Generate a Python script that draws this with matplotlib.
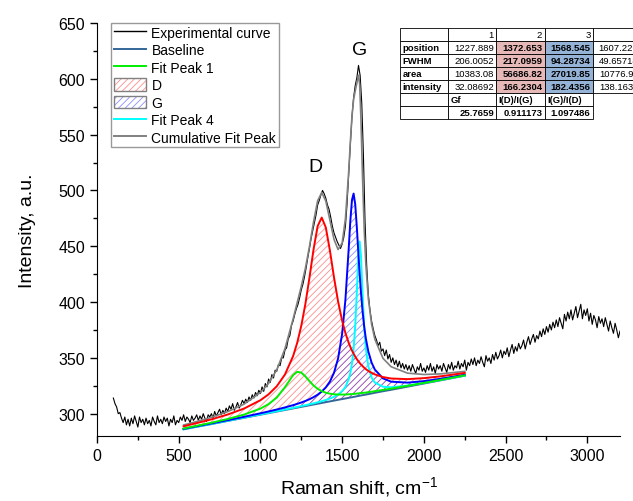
import numpy as np
import matplotlib.pyplot as plt
import matplotlib.patches as mpatches
from matplotlib.lines import Line2D
from matplotlib.legend_handler import HandlerTuple
from matplotlib.table import Table
from matplotlib.ticker import MultipleLocator

# experimental spectrum, one value every 10 cm-1 from 100 to 3200
exp_x = np.arange(100, 3201, 10)
exp_y = [
    314, 309, 306, 300, 301, 296, 292, 297, 290, 295,
    289, 296, 291, 298, 293, 288, 297, 292, 295, 290,
    296, 291, 294, 289, 297, 293, 290, 298, 292, 295,
    291, 297, 293, 296, 289, 295, 292, 298, 290, 294,
    292, 297, 294, 299, 293, 297, 295, 292, 298, 294,
    296, 299, 294, 298, 295, 300, 296, 293, 299, 297,
    300, 296, 302, 298, 301, 304, 299, 303, 300, 305,
    302, 307, 304, 309, 303, 306, 310, 305, 308, 312,
    309, 313, 310, 315, 312, 317, 314, 319, 316, 321,
    318, 324, 320, 327, 324, 331, 328, 335, 332, 339,
    338, 344, 343, 350, 350, 357, 359, 367, 370, 379,
    383, 389, 394, 398, 404, 411, 416, 423, 431, 440,
    448, 457, 464, 471, 478, 487, 491, 496, 500, 497,
    493, 487, 483, 476, 468, 462, 458, 454, 451, 448,
    452, 458, 468, 488, 515, 541, 566, 583, 594, 601,
    612, 603, 578, 532, 472, 433, 407, 393, 383, 376,
    370, 366, 361, 364, 356, 358, 352, 357, 349, 353,
    346, 350, 344, 348, 342, 347, 341, 345, 340, 344,
    339, 343, 338, 344, 340, 336, 342, 339, 345, 338,
    341, 337, 343, 339, 345, 338, 342, 336, 344, 340,
    343, 338, 345, 341, 337, 344, 340, 346, 339, 343,
    341, 347, 340, 345, 342, 348, 339, 346, 343, 349,
    344, 350, 343, 348, 345, 351, 346, 342, 352, 347,
    350, 345, 353, 348, 355, 349, 352, 357, 350, 356,
    353, 359, 351, 357, 362, 354, 360, 356, 363, 358,
    361, 366, 358, 364, 369, 362, 367, 371, 364, 370,
    367, 374, 369, 376, 371, 378, 373, 380, 375, 382,
    377, 384, 378, 386, 381, 376, 389, 383, 391, 385,
    393, 384, 390, 396, 386, 392, 398, 385, 393, 388,
    394, 383, 390, 380, 388, 384, 377, 387, 381, 385,
    378, 386, 380, 374, 383, 377, 372, 381, 375, 368,
    374,
]

# fitted curves, heights above the baseline
fit_x = [530, 600, 700, 800, 900, 1000, 1050, 1100, 1150, 1200, 1225, 1250,
         1275, 1300, 1325, 1350, 1375, 1400, 1425, 1450, 1475, 1500, 1520,
         1540, 1550, 1560, 1570, 1580, 1590, 1600, 1607, 1615, 1625, 1635,
         1645, 1660, 1680, 1700, 1750, 1800, 1900, 2000, 2100, 2250]
baseline = [286.0, 288.0, 290.7, 293.5, 296.3, 299.1, 300.5, 301.9, 303.3,
            304.7, 305.4, 306.1, 306.8, 307.5, 308.2, 308.9, 309.6, 310.3,
            311.0, 311.7, 312.4, 313.1, 313.6, 314.2, 314.5, 314.7, 315.0,
            315.3, 315.6, 315.9, 316.1, 316.3, 316.6, 316.8, 317.1, 317.5,
            318.1, 318.7, 320.1, 321.4, 324.2, 327.0, 329.8, 334.0]
peak1 = [0.68, 0.84, 1.18, 1.76, 2.88, 5.44, 8.05, 12.6, 20.4, 29.9, 32.1,
         30.7, 26.6, 21.6, 17.0, 13.4, 10.6, 8.47, 6.89, 5.69, 4.76, 4.03,
         3.55, 3.15, 2.98, 2.82, 2.67, 2.53, 2.40, 2.29, 2.21, 2.12, 2.02,
         1.93, 1.85, 1.73, 1.58, 1.46, 1.20, 1.01, 0.74, 0.56, 0.44, 0.32]
peak_d = [2.71, 3.21, 4.21, 5.75, 8.31, 12.96, 16.85, 22.67, 31.8, 46.9, 58.1,
          72.7, 91.5, 114.4, 139.0, 159.1, 166.1, 156.5, 135.2, 110.5, 88.2,
          70.1, 58.6, 49.3, 45.4, 41.9, 38.7, 35.8, 33.2, 30.9, 29.4, 27.8,
          26.0, 24.3, 22.8, 20.8, 18.5, 16.5, 12.7, 10.1, 6.76, 4.83, 3.62,
          2.51]
peak_g = [0.38, 0.43, 0.54, 0.68, 0.90, 1.25, 1.50, 1.83, 2.29, 2.94, 3.37,
          3.91, 4.59, 5.45, 6.59, 8.11, 10.22, 13.24, 17.77, 24.92, 36.97,
          58.6, 88.6, 133.6, 158.1, 176.7, 182.2, 172.2, 151.0, 126.1, 109.4,
          92.4, 74.8, 61.0, 50.2, 38.3, 27.7, 20.8, 11.5, 7.26, 3.62, 2.15,
          1.42, 0.87]
peak4 = [0.07, 0.08, 0.10, 0.13, 0.17, 0.23, 0.27, 0.33, 0.41, 0.51, 0.58,
         0.67, 0.77, 0.90, 1.06, 1.28, 1.57, 1.96, 2.52, 3.37, 4.72, 7.06,
         10.4, 16.69, 22.03, 30.14, 42.9, 63.3, 94.0, 128.0, 138.2, 125.2,
         90.6, 60.8, 41.3, 24.9, 14.3, 9.19, 4.04, 2.25, 0.99, 0.55, 0.35,
         0.21]

legend_labels = ['Experimental curve', 'Baseline', 'Fit Peak 1', 'D', 'G',
                 'Fit Peak 4', 'Cumulative Fit Peak']

# fit results table
table_header = ['', '1', '2', '3', '4']
param_names = ['position', 'FWHM', 'area', 'intensity']
peak_params = [
    ['1227.889', '1372.653', '1568.545', '1607.229'],
    ['206.0052', '217.0959', '94.28734', '49.65718'],
    ['10383.08', '56686.82', '27019.85', '10776.95'],
    ['32.08692', '166.2304', '182.4356', '138.1632'],
]
ratio_names = ['', 'Gf', 'I(D)/I(G)', 'I(G)/I(D)']
ratio_values = ['', '25.7659', '0.911173', '1.097486']

plt.rcParams['font.family'] = ['Liberation Sans', 'DejaVu Sans']
plt.rcParams['mathtext.default'] = 'regular'
plt.rcParams['hatch.linewidth'] = 0.6

fig = plt.figure(figsize=(6.33, 5.02), dpi=100)
ax = fig.add_axes([97 / 633, 65 / 502, 523 / 633, 413 / 502])

fx = np.array(fit_x)
base = np.array(baseline)
p1 = base + np.array(peak1)
pd_ = base + np.array(peak_d)
pg = base + np.array(peak_g)
p4 = base + np.array(peak4)
cum = base + np.array(peak1) + np.array(peak_d) + np.array(peak_g) + np.array(peak4)

base_color = '#336699'
d_hatch = (1, 0, 0, 0.45)
g_hatch = (0, 0, 1, 0.45)
hatch = '/////'

ax.plot(exp_x, exp_y, color='black', lw=0.8, zorder=2)
ax.plot(fx, cum, color='#808080', lw=1.2, zorder=3)
ax.fill_between(fx, base, pd_, facecolor='none', edgecolor=d_hatch,
                hatch=hatch, lw=0, zorder=1)
ax.fill_between(fx, base, pg, facecolor='none', edgecolor=g_hatch,
                hatch=hatch, lw=0, zorder=1)
ax.plot(fx, base, color=base_color, lw=1.4, zorder=3)
ax.plot(fx, p4, color='#00ffff', lw=1.4, zorder=4)
ax.plot(fx, pg, color='#0000ff', lw=1.4, zorder=4)
ax.plot(fx, p1, color='#00ee00', lw=1.4, zorder=4)
ax.plot(fx, pd_, color='#ff0000', lw=1.4, zorder=4)

ax.text(1335, 521, 'D', fontsize=14, ha='center', va='center')
ax.text(1606, 626, 'G', fontsize=14, ha='center', va='center')

ax.set_xlim(0, 3200)
ax.set_ylim(280, 650)
ax.xaxis.set_major_locator(MultipleLocator(500))
ax.xaxis.set_minor_locator(MultipleLocator(250))
ax.yaxis.set_major_locator(MultipleLocator(50))
ax.yaxis.set_minor_locator(MultipleLocator(25))
ax.tick_params(which='both', direction='out', width=1, labelsize=11.5)
ax.tick_params(which='major', length=5)
ax.tick_params(which='minor', length=3)
ax.spines['top'].set_visible(False)
ax.spines['right'].set_visible(False)
ax.set_xlabel('Raman shift, cm$^{-1}$', fontsize=14, labelpad=8)
ax.set_ylabel('Intensity, a.u.', fontsize=14, labelpad=16)

handles = [
    Line2D([], [], color='black', lw=1),
    Line2D([], [], color=base_color, lw=1.4),
    Line2D([], [], color='#00ee00', lw=1.4),
    (mpatches.Patch(facecolor='white', edgecolor=d_hatch, hatch=hatch, lw=0),
     mpatches.Patch(facecolor='none', edgecolor='#808080', lw=1)),
    (mpatches.Patch(facecolor='white', edgecolor=g_hatch, hatch=hatch, lw=0),
     mpatches.Patch(facecolor='none', edgecolor='#808080', lw=1)),
    Line2D([], [], color='#00ffff', lw=1.4),
    Line2D([], [], color='#808080', lw=1.4),
]
leg = ax.legend(handles, legend_labels, loc='upper left',
                bbox_to_anchor=(0.027, 1.0), borderaxespad=0,
                handler_map={tuple: HandlerTuple(ndivide=1, pad=0)},
                fontsize=10, frameon=True, fancybox=False,
                handlelength=2.3, handleheight=1.0, handletextpad=0.4,
                labelspacing=0.25, borderpad=0.2)
leg.get_frame().set_edgecolor('#808080')
leg.get_frame().set_linewidth(1)

# table in the top right corner, partly cut by the figure edge
tax = fig.add_axes([400 / 633, 1 - 120 / 502, 241 / 633, 91 / 502])
tax.axis('off')
tbl = Table(tax, bbox=[0, 0, 1, 1])
pink = '#e6b8b7'
blue = '#95b3d7'
rows = [table_header]
for name, vals in zip(param_names, peak_params):
    rows.append([name] + vals)
rows.append(ratio_names)
rows.append(ratio_values)
for r, row in enumerate(rows):
    for c, txt in enumerate(row):
        face = 'white'
        bold = False
        loc = 'right'
        if 1 <= r <= 4:
            if c == 0:
                loc = 'left'
                bold = True
            elif c == 2:
                face = pink
                bold = True
            elif c == 3:
                face = blue
                bold = True
        elif r == 5:
            loc = 'left'
            bold = True
        elif r == 6:
            bold = True
        cell = tbl.add_cell(r, c, width=1, height=1, text=txt, loc=loc,
                            facecolor=face, edgecolor='black')
        cell.set_linewidth(0.6)
        cell.PAD = 0.05
        cell.get_text().set_fontsize(6.8)
        if bold:
            cell.get_text().set_fontweight('bold')
tbl.auto_set_font_size(False)
tax.add_table(tbl)

fig.savefig('out.png', dpi=100)
